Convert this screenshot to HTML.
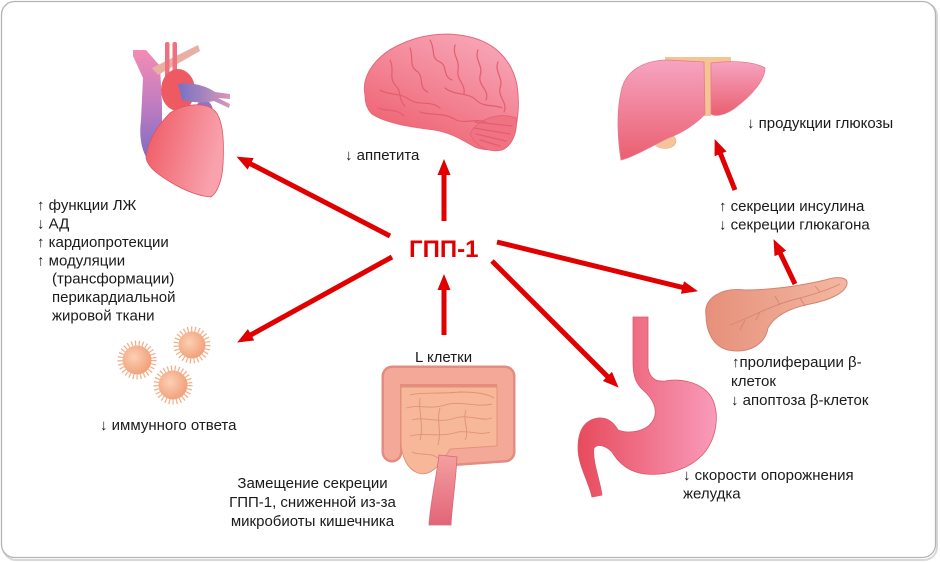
<!DOCTYPE html>
<html><head><meta charset="utf-8"><style>
html,body{margin:0;padding:0;background:#fff;}
svg{display:block;}
text{font-family:"Liberation Sans","DejaVu Sans",sans-serif;font-size:15px;fill:#1a1a1a;}
</style></head><body>
<svg width="940" height="562" viewBox="0 0 940 562" xmlns="http://www.w3.org/2000/svg">
<defs>
 <marker id="ah" markerUnits="userSpaceOnUse" markerWidth="16" markerHeight="13" refX="7" refY="6.5" orient="auto">
  <path d="M0,0 L16,6.5 L0,13 Z" fill="#e00000"/>
 </marker>
 <linearGradient id="gHeart" x1="0" y1="0" x2="1" y2="0.3">
  <stop offset="0" stop-color="#ef5660"/><stop offset="1" stop-color="#f8a2ad"/>
 </linearGradient>
 <linearGradient id="gVein" x1="0" y1="0" x2="0" y2="1">
  <stop offset="0" stop-color="#f48cb4"/><stop offset="0.5" stop-color="#c07cc0"/><stop offset="1" stop-color="#7c6cc0"/>
 </linearGradient>
 <linearGradient id="gPulm" x1="0" y1="0" x2="1" y2="0">
  <stop offset="0" stop-color="#7670c4"/><stop offset="1" stop-color="#d898b8"/>
 </linearGradient>
 <linearGradient id="gBrain" x1="0.8" y1="0" x2="0.2" y2="1">
  <stop offset="0" stop-color="#f7a8ba"/><stop offset="1" stop-color="#ee5e6c"/>
 </linearGradient>
 <linearGradient id="gLiver" x1="0" y1="0" x2="0" y2="1">
  <stop offset="0" stop-color="#f6a4c2"/><stop offset="1" stop-color="#ea5f70"/>
 </linearGradient>
 <linearGradient id="gPanc" x1="0" y1="0" x2="1" y2="0">
  <stop offset="0" stop-color="#e6907a"/><stop offset="1" stop-color="#f3b8a2"/>
 </linearGradient>
 <linearGradient id="gStom" x1="0" y1="0" x2="1" y2="0">
  <stop offset="0" stop-color="#e74b5c"/><stop offset="1" stop-color="#f99bbb"/>
 </linearGradient>
 <linearGradient id="gRect" x1="0" y1="0" x2="0" y2="1">
  <stop offset="0" stop-color="#f4a0a0"/><stop offset="1" stop-color="#e26478"/>
 </linearGradient>
 <radialGradient id="gCell" cx="0.4" cy="0.4" r="0.6">
  <stop offset="0" stop-color="#fcd0b4"/><stop offset="1" stop-color="#f1a27c"/>
 </radialGradient>
</defs>

<!-- frame -->
<rect x="3" y="3" width="934" height="557" rx="13" fill="none" stroke="#d8d8d8" stroke-width="2"/>
<rect x="1.5" y="1.5" width="934" height="556" rx="13" fill="#fff" stroke="#b4b4b4" stroke-width="1.3"/>

<!-- HEART -->
<g>
 <path d="M133,50 L146,50 L160,66 L162,105 L162,150 L148,160 C141,150 139,135 141,120 L143,78 L133,56 Z" fill="url(#gVein)"/>
 <path d="M152,68 L198,45 L200,51 L158,75 Z" fill="#e8b0a2"/>
 <rect x="165" y="42" width="4.5" height="36" rx="2" fill="#f07080"/>
 <rect x="172.5" y="42" width="4.5" height="36" rx="2" fill="#f07080"/>
 <ellipse cx="178" cy="90" rx="17" ry="21" fill="#ee5a62"/>
 <ellipse cx="204" cy="112" rx="9" ry="12" fill="#9474c2"/>
 <path d="M178,84 C190,82 205,85 215,92 L230,94 L230,99 L218,98 L230,104 L229,108 L214,101 C205,103 195,103 182,100 Z" fill="url(#gPulm)"/>
 <path d="M146,158 C148,140 158,125 170,113 C183,104 205,101 215,111 C224,121 224,145 223,165 C222,180 218,192 211,197 C198,196 184,190 172,183 C160,176 148,168 146,158 Z" fill="url(#gHeart)" stroke="#e05262" stroke-width="0.8"/>
</g>

<!-- BRAIN -->
<g>
 <path d="M365,95 C361,75 377,55 399,45 C419,35 445,31 470,37 C495,43 512,60 517,85 C520,105 518,125 512,138 C505,150 488,152 475,147 C462,140 452,133 435,130 C410,127 385,123 372,114 C366,108 365,100 365,95 Z" fill="url(#gBrain)" stroke="#e8687a" stroke-width="1"/>
 <path d="M470,134 C478,118 500,112 516,118 C518,132 512,146 502,150 C490,153 476,147 470,134 Z" fill="#f07384" stroke="#e45e70" stroke-width="0.8"/>
 <g fill="none" stroke="#e35d6f" stroke-width="1.2" stroke-linecap="round">
  <path d="M475,122 L512,126 M474,128 L510,134 M476,134 L506,141 M480,140 L500,146"/>
  <path d="M390,60 C395,70 388,78 396,86 C402,92 398,100 405,106"/>
  <path d="M410,48 C414,58 408,66 418,72 C424,78 418,88 428,92"/>
  <path d="M430,40 C436,50 430,58 440,62 C448,66 442,76 452,80"/>
  <path d="M455,45 C452,55 460,60 458,70 C456,80 466,84 464,94"/>
  <path d="M478,50 C474,60 484,66 480,76 C478,86 490,90 486,100"/>
  <path d="M498,62 C494,72 504,78 500,88 C498,98 508,102 504,112"/>
  <path d="M380,90 C390,96 400,92 410,100 C420,106 430,100 440,108"/>
  <path d="M420,112 C432,116 444,112 456,120 C466,124 476,118 486,122"/>
  <path d="M445,88 C455,96 468,92 476,100 C484,108 494,104 502,108"/>
  <path d="M378,108 C388,112 396,108 404,116"/>
 </g>
</g>

<!-- LIVER -->
<g>
 <path d="M665,57 L731,57 L731,64 L712,65 L711,116 L704,116 L703,65 L665,63 Z" fill="#f4c494"/>
 <ellipse cx="665" cy="141" rx="11" ry="7.5" fill="#f5c49a" stroke="#e8a880" stroke-width="0.6"/>
 <path d="M621,92 C625,70 645,60 668,60 L704,62 L705,114 C696,124 682,133 668,138 C652,146 633,157 621,160 C617,135 617,110 621,92 Z" fill="url(#gLiver)" stroke="#e8798a" stroke-width="0.8"/>
 <path d="M711,63 C735,60 755,62 765,68 C765,80 752,95 735,108 C725,115 716,117 711,114 Z" fill="url(#gLiver)" stroke="#e8798a" stroke-width="0.8"/>
</g>

<!-- PANCREAS -->
<g>
 <path d="M706,315 C703,298 722,287 745,290 C770,290 800,286 825,280 C838,276 848,277 847,284 C845,293 830,300 810,304 C790,308 775,315 768,328 C765,345 748,354 728,350 C712,346 706,330 706,315 Z" fill="url(#gPanc)" stroke="#d58470" stroke-width="1"/>
 <g fill="none" stroke="#d8866e" stroke-width="0.9">
  <path d="M730,325 C750,318 770,305 800,298 C815,294 828,290 840,284"/>
  <path d="M745,320 L740,330 M760,312 L756,320 M780,305 L775,296 M800,298 L805,306 M820,292 L815,286"/>
 </g>
</g>

<!-- STOMACH -->
<path d="M633,317 L648,317 L648,368 C650,378 655,382 665,381 C680,378 700,382 710,395 C720,410 718,435 705,452 C690,470 665,476 645,474 C628,472 618,462 612,452 C606,446 598,443 594,448 C592,460 600,480 602,495 L592,497 C588,480 578,465 578,448 C578,430 585,420 598,418 C608,417 614,423 618,430 C628,434 645,432 652,422 C660,410 652,398 643,390 C634,382 633,372 633,360 Z" fill="url(#gStom)" stroke="#dc5868" stroke-width="0.8"/>

<!-- INTESTINE -->
<g>
 <path d="M392,452 L392,376 L505,376 L505,452 L448,456" fill="none" stroke="#e48c80" stroke-width="21" stroke-linejoin="round" stroke-linecap="round"/>
 <path d="M392,452 L392,376 L505,376 L505,452 L448,456" fill="none" stroke="#f3a898" stroke-width="16" stroke-linejoin="round" stroke-linecap="round"/>
 <path d="M401,387 L497,387 L497,446 L450,449 C440,466 430,477 418,473 C407,469 401,456 401,440 Z" fill="#f6b898" stroke="#e39078" stroke-width="0.9"/>
 <g fill="none" stroke="#e0907a" stroke-width="0.9">
  <path d="M410,395 C420,392 440,394 460,392 C475,392 488,394 494,398"/>
  <path d="M406,408 C420,404 430,410 445,405 C460,400 475,408 492,404"/>
  <path d="M412,420 C425,416 440,424 455,418 C470,414 482,422 492,418"/>
  <path d="M410,436 C425,432 440,438 458,432 C470,430 480,436 490,432"/>
  <path d="M420,398 C418,410 424,425 420,440 M440,408 C436,420 442,430 438,445 M466,410 C462,420 470,430 465,440"/>
  <path d="M412,452 C420,456 430,452 438,458"/>
 </g>
 <path d="M439,455 L457,457 C456,480 452,505 451,525 L429,525 C430,505 436,480 439,455 Z" fill="url(#gRect)" stroke="#d86878" stroke-width="0.8"/>
</g>

<!-- IMMUNE CELLS -->
<g>
 <circle cx="137" cy="360" r="16.5" fill="none" stroke="#f4ae88" stroke-width="6" stroke-dasharray="1.2 2.4"/>
 <circle cx="137" cy="360" r="14.5" fill="url(#gCell)"/>
 <circle cx="192" cy="345" r="15.5" fill="none" stroke="#f4ae88" stroke-width="6" stroke-dasharray="1.2 2.4"/>
 <circle cx="192" cy="345" r="13.5" fill="url(#gCell)"/>
 <circle cx="173" cy="385" r="16.5" fill="none" stroke="#f4ae88" stroke-width="6" stroke-dasharray="1.2 2.4"/>
 <circle cx="173" cy="385" r="14.5" fill="url(#gCell)"/>
</g>

<!-- ARROWS -->
<g stroke="#e00000" stroke-width="5" fill="none" marker-end="url(#ah)">
 <line x1="390" y1="236" x2="244.5" y2="160.7"/>
 <line x1="444" y1="221" x2="444" y2="168"/>
 <line x1="392" y1="257" x2="245" y2="338.1"/>
 <line x1="444" y1="335" x2="444" y2="283"/>
 <line x1="497" y1="242" x2="689.2" y2="289.1"/>
 <line x1="492" y1="261" x2="612.3" y2="381.3"/>
 <line x1="735" y1="190" x2="718" y2="147.4"/>
 <line x1="795" y1="284" x2="777.4" y2="247.2"/>
</g>

<!-- CENTER LABEL -->
<text x="409" y="257" style="font-size:24px;font-weight:bold;fill:#e00000">ГПП-1</text>

<!-- LABELS -->
<text x="345" y="160">↓ аппетита</text>
<text x="37" y="210">↑ функции ЛЖ</text>
<text x="37" y="228.5">↓ АД</text>
<text x="37" y="247">↑ кардиопротекции</text>
<text x="37" y="265.3">↑ модуляции</text>
<text x="52" y="283.6">(трансформации)</text>
<text x="52" y="302">перикардиальной</text>
<text x="52" y="320.3">жировой ткани</text>
<text x="747" y="128">↓ продукции глюкозы</text>
<text x="719" y="211">↑ секреции инсулина</text>
<text x="719" y="229.5">↓ секреции глюкагона</text>
<text x="732" y="367">↑пролиферации β-</text>
<text x="731" y="386">клеток</text>
<text x="731" y="405">↓ апоптоза β-клеток</text>
<text x="683" y="480">↓ скорости опорожнения</text>
<text x="683" y="498.5">желудка</text>
<text x="100" y="430">↓ иммунного ответа</text>
<text x="415" y="362">L клетки</text>
<text x="312.5" y="488" text-anchor="middle">Замещение секреции</text>
<text x="312.5" y="507" text-anchor="middle">ГПП-1, сниженной из-за</text>
<text x="312.5" y="526" text-anchor="middle">микробиоты кишечника</text>
</svg>
</body></html>
